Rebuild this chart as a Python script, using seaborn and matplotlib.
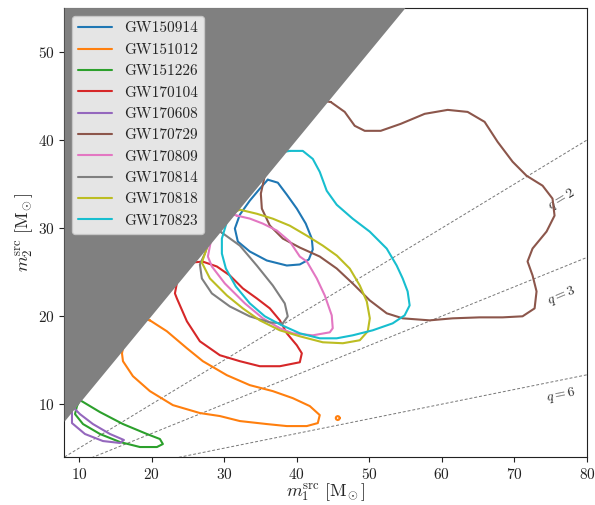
import numpy as np
import pandas as pd
import matplotlib
matplotlib.use("Agg")
import matplotlib.pyplot as plt
import seaborn as sns

# 90% credible contours in the (m1, m2) source-frame mass plane, one closed curve per event
events = ["GW150914", "GW151012", "GW151226", "GW170104", "GW170608",
          "GW170729", "GW170809", "GW170814", "GW170818", "GW170823"]

gw150914_m1 = [36.02, 37.40, 38.64, 40.02, 41.25, 42.08, 42.22, 41.67, 40.43, 38.64,
               35.88, 33.54, 31.89, 31.48, 32.17, 33.54, 34.92]
gw150914_m2 = [35.50, 35.16, 33.80, 32.21, 30.51, 28.81, 27.57, 26.43, 25.87, 25.75,
               26.32, 27.34, 28.47, 29.95, 31.53, 33.12, 34.48]

gw151012_m1 = [19.77, 22.11, 24.87, 27.07, 30.38, 33.54, 36.71, 39.47, 41.81, 43.18,
               42.91, 41.39, 38.64, 35.88, 32.17, 29.41, 26.66, 22.94, 19.77, 17.43,
               16.06, 15.92, 17.0]
gw151012_m2 = [19.52, 18.28, 16.35, 14.88, 13.29, 12.16, 11.48, 10.68, 9.78, 8.76,
               7.85, 7.51, 7.51, 7.74, 8.08, 8.65, 8.99, 9.89, 11.48, 13.18,
               14.88, 15.78, 20.0]
# small isolated island of the GW151012 contour
gw151012_island_m1 = [45.94, 45.86, 45.66, 45.46, 45.38, 45.46, 45.66, 45.86]
gw151012_island_m2 = [8.42, 8.58, 8.65, 8.58, 8.42, 8.26, 8.19, 8.26]

gw151226_m1 = [10.13, 12.89, 16.06, 19.36, 21.15, 21.56, 20.74, 18.40, 15.64, 12.89,
               10.55, 9.45, 9.72]
gw151226_m2 = [10.46, 9.10, 7.74, 6.61, 6.04, 5.47, 5.13, 5.13, 5.70, 6.61,
               7.74, 8.87, 9.78]

gw170104_m1 = [27.07, 29.00, 30.79, 32.58, 34.51, 36.30, 37.68, 38.64, 40.02, 40.71,
               40.43, 37.68, 34.92, 32.17, 29.41, 26.66, 24.87, 23.49, 23.22, 24.0]
gw170104_m2 = [26.19, 25.64, 24.62, 23.15, 22.01, 20.88, 19.52, 18.05, 16.69, 15.78,
               14.76, 14.31, 14.31, 14.88, 15.56, 17.14, 19.41, 22.01, 22.58, 26.0]

gw170608_m1 = [9.03, 9.03, 10.82, 13.30, 15.64, 16.19, 14.27, 11.92, 10.13, 9.31]
gw170608_m2 = [9.55, 7.85, 6.61, 5.81, 5.59, 5.93, 6.61, 7.74, 8.87, 9.55]

gw170729_m1 = [44.69, 46.62, 48.00, 49.38, 51.58, 54.33, 57.64, 60.81, 63.56, 65.90,
               67.69, 69.76, 71.68, 73.89, 75.26, 75.54, 74.44, 72.51, 71.82, 72.51,
               73.06, 72.79, 71.13, 68.38, 65.21, 61.49, 58.32, 54.61, 52.41, 50.07,
               47.72, 45.52, 43.18, 40.43, 38.09, 36.30, 35.20, 35.06, 38.0]
gw170729_m2 = [44.33, 43.20, 41.62, 41.05, 41.05, 41.84, 42.98, 43.43, 43.20, 42.07,
               39.80, 37.54, 35.95, 34.82, 33.35, 31.42, 29.61, 27.68, 26.21, 24.62,
               22.81, 20.88, 19.98, 19.86, 19.86, 19.75, 19.52, 19.75, 20.32, 21.79,
               23.71, 25.41, 26.77, 27.79, 28.81, 30.29, 32.21, 33.91, 45.0]

gw170809_m1 = [31.76, 33.54, 35.34, 37.27, 39.06, 40.43, 41.40, 42.77, 43.87, 44.83,
               44.97, 44.56, 42.22, 39.47, 37.68, 35.34, 32.86, 30.10, 28.31, 27.76, 29.0]
gw170809_m2 = [31.42, 31.08, 30.51, 29.72, 28.47, 26.77, 26.21, 24.28, 22.35, 20.09,
               18.62, 18.16, 17.82, 18.05, 18.62, 19.75, 21.45, 23.71, 25.64, 26.77, 32.0]

gw170814_m1 = [29.69, 32.17, 34.51, 36.71, 38.36, 38.77, 38.09, 36.30, 33.54, 30.79,
               28.31, 26.93, 26.66, 27.35, 28.5]
gw170814_m2 = [29.48, 28.01, 25.74, 23.48, 21.44, 19.97, 19.18, 19.29, 19.97, 21.10,
               22.58, 24.28, 25.87, 27.11, 30.0]

gw170818_m1 = [32.17, 34.51, 36.71, 39.06, 41.40, 43.60, 45.53, 47.32, 48.70, 49.66,
               50.08, 49.80, 48.70, 46.36, 43.60, 40.43, 37.68, 34.92, 32.58, 30.38,
               28.04, 26.93, 29.0]
gw170818_m2 = [32.09, 31.63, 31.07, 30.27, 29.14, 28.01, 26.88, 25.40, 23.48, 21.67,
               19.75, 18.28, 17.26, 16.92, 17.03, 17.71, 18.39, 19.52, 20.88, 22.35,
               24.28, 26.09, 31.0]

gw170823_m1 = [39.06, 40.84, 42.22, 43.18, 44.14, 45.52, 47.72, 50.07, 52.41, 53.78,
               54.61, 55.29, 55.57, 54.88, 53.23, 50.48, 47.72, 45.52, 43.18, 40.43,
               37.68, 35.61, 33.54, 31.61, 30.24, 29.69, 29.69, 33.0]
gw170823_m2 = [38.77, 38.77, 37.86, 36.39, 34.24, 32.65, 31.07, 29.60, 27.67, 25.75,
               24.28, 22.81, 21.22, 20.09, 19.18, 18.39, 17.82, 17.48, 17.48, 18.05,
               19.07, 19.98, 21.45, 23.37, 25.41, 27.11, 28.81, 38.0]

# mass ratio reference lines m2 = m1 / q
mass_ratios = [2, 3, 6]
ratio_label_m1 = [76.5, 76.5, 76.5]
ratio_label_m2 = [33.3, 22.35, 11.0]
ratio_label_angle = [31, 23, 11.5]

pieces = [
    ("GW150914", gw150914_m1, gw150914_m2),
    ("GW151012", gw151012_m1, gw151012_m2),
    ("GW151012", gw151012_island_m1, gw151012_island_m2),
    ("GW151226", gw151226_m1, gw151226_m2),
    ("GW170104", gw170104_m1, gw170104_m2),
    ("GW170608", gw170608_m1, gw170608_m2),
    ("GW170729", gw170729_m1, gw170729_m2),
    ("GW170809", gw170809_m1, gw170809_m2),
    ("GW170814", gw170814_m1, gw170814_m2),
    ("GW170818", gw170818_m1, gw170818_m2),
    ("GW170823", gw170823_m1, gw170823_m2),
]

rows = []
for k, (name, xs, ys) in enumerate(pieces):
    xs = list(xs) + [xs[0]]
    ys = list(ys) + [ys[0]]
    for i, (a, b) in enumerate(zip(xs, ys)):
        rows.append({"event": name, "piece": k, "order": i, "m1": a, "m2": b})
contours = pd.DataFrame(rows)

sns.set_style("ticks")
plt.rcParams["font.family"] = ["serif"]
plt.rcParams["font.serif"] = ["cmr10", "DejaVu Serif"]
plt.rcParams["mathtext.fontset"] = "cm"
plt.rcParams["axes.formatter.use_mathtext"] = True
plt.rcParams["axes.edgecolor"] = "#222222"
plt.rcParams["xtick.color"] = "#222222"
plt.rcParams["ytick.color"] = "#222222"

fig = plt.figure(figsize=(5.95, 5.05), dpi=100)
ax = fig.add_axes([0.1084, 0.0951, 0.878, 0.889])

xmin, xmax, ymin, ymax = 8, 80, 4, 55

# dashed lines of constant mass ratio
m1_grid = np.array([xmin, xmax], dtype=float)
for q in mass_ratios:
    sns.lineplot(x=m1_grid, y=m1_grid / q, ax=ax, color="#777777", lw=0.7,
                 linestyle=(0, (3, 2)), zorder=1)
for q, tx, ty, ang in zip(mass_ratios, ratio_label_m1, ratio_label_m2, ratio_label_angle):
    ax.text(tx, ty, rf"$q = {q}$", rotation=ang, ha="center", va="center",
            fontsize=10, color="#333333", zorder=1.5)

sns.lineplot(data=contours, x="m1", y="m2", hue="event", hue_order=events,
             units="piece", estimator=None, sort=False, palette="tab10",
             lw=1.5, ax=ax, zorder=2)
for line in ax.get_lines():
    line.set_solid_joinstyle("round")

# excluded region m2 > m1
grid = np.linspace(xmin, xmax, 200)
ax.fill_between(grid, grid, ymax, color="#808080", lw=0, zorder=3)

ax.set_xlim(xmin, xmax)
ax.set_ylim(ymin, ymax)
ax.set_xticks([10, 20, 30, 40, 50, 60, 70, 80])
ax.set_yticks([10, 20, 30, 40, 50])
ax.tick_params(labelsize=11, length=3.5, width=0.8)
ax.set_xlabel(r"$m_1^{\mathrm{src}}\ [\mathrm{M}_{\!\odot}]$", fontsize=13, labelpad=0)
ax.set_ylabel(r"$m_2^{\mathrm{src}}\ [\mathrm{M}_{\!\odot}]$", fontsize=13, labelpad=2)

handles, labels = ax.get_legend_handles_labels()
leg = ax.legend(handles, labels, loc="upper left", fontsize=11, handlelength=2.2,
                framealpha=0.8, facecolor="white", edgecolor="#cccccc", labelspacing=0.5)
leg.set_zorder(5)
for line in leg.get_lines():
    line.set_linewidth(1.5)

fig.savefig("out.png", dpi=100)
